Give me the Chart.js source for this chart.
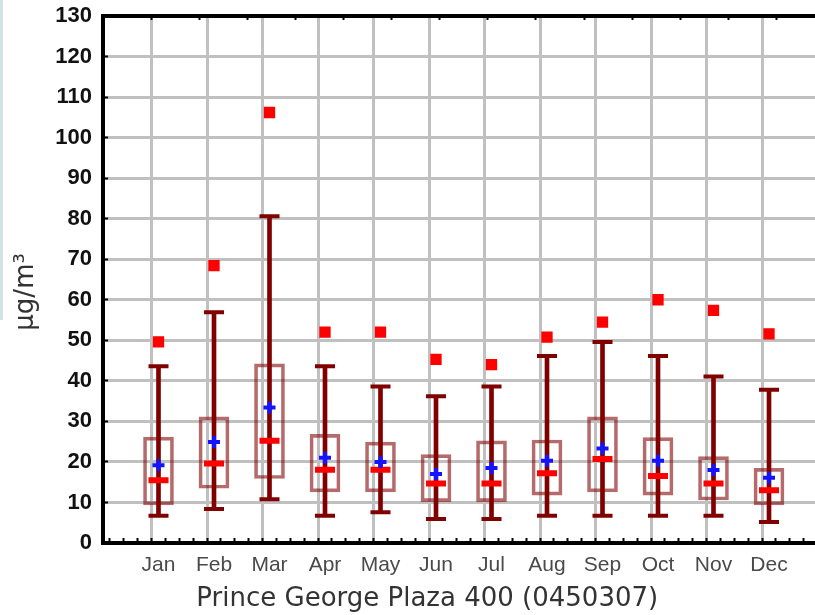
<!DOCTYPE html>
<html>
<head>
<meta charset="utf-8">
<script src="https://cdn.jsdelivr.net/npm/chart.js@4/dist/chart.umd.min.js"></script>
<style>
body { margin: 0; overflow: hidden; background: #fff; }
canvas { position: absolute; left: 0; top: 0; }
#strip { position: absolute; left: 0; top: 0; width: 3px; height: 320px; background: #d3e2ea; }
</style>
</head>
<body>
<canvas id="chart" width="854" height="615"></canvas>
<div id="strip"></div>
<script>
const months = ["Jan", "Feb", "Mar", "Apr", "May", "Jun", "Jul", "Aug", "Sep", "Oct", "Nov", "Dec"]
const maxValues = [49.6, 68.4, 106.2, 52.0, 52.0, 45.3, 44.0, 50.8, 54.5, 60.0, 57.4, 51.6]
const upperWhisker = [43.6, 56.9, 80.6, 43.6, 38.6, 36.2, 38.6, 46.1, 49.6, 46.1, 41.1, 37.8]
const upperQuartile = [26.1, 31.1, 44.2, 26.8, 24.9, 21.8, 25.2, 25.4, 31.1, 26.0, 21.3, 18.4]
const means = [19.2, 24.9, 33.4, 21.0, 20.0, 17.0, 18.5, 20.3, 23.3, 20.3, 18.0, 16.1]
const medians = [15.5, 19.6, 25.2, 18.1, 18.1, 14.7, 14.7, 17.2, 20.7, 16.5, 14.7, 13.0]
const lowerQuartile = [9.4, 13.5, 15.9, 12.6, 12.6, 10.2, 10.2, 11.8, 12.6, 11.8, 10.6, 9.4]
const lowerWhisker = [6.7, 8.4, 10.8, 6.7, 7.6, 5.9, 5.9, 6.7, 6.7, 6.7, 6.7, 5.2]
const yTicks = [0, 130, 10] // min, max, step

function toPoints(values) { // one point per month, month n sits at x = n
    return values.map((v, i) => ({ x: i + 1, y: v }))
}
function toRanges(low, high) { // floating bars from low to high
    return low.map((v, i) => ({ x: i + 1, y: [v, high[i]] }))
}
function markers(values, style, radius, width, color) {
    return {
        type: 'line', data: toPoints(values), showLine: false,
        pointStyle: style, pointRadius: radius, pointBorderWidth: width,
        pointBorderColor: color, pointBackgroundColor: color, borderColor: color
    }
}
function isMonthTick(c) { // only whole numbers get a grey grid line
    return !!c.tick && Number.isInteger(c.tick.value)
}

new Chart("chart", {
    type: 'bar',
    data: {
        datasets: [
            markers(means, 'cross', 6, 4, '#1414ff'),
            markers(medians, 'line', 10, 6, '#ff0000'),
            markers(maxValues, 'rect', 8, 0, '#ff0000'),
            markers(upperWhisker, 'line', 10, 4, '#800000'),
            markers(lowerWhisker, 'line', 10, 4, '#800000'),
            { type: 'bar', data: toRanges(lowerWhisker, upperWhisker), barThickness: 4, backgroundColor: '#800000', borderWidth: 0, grouped: false },
            { type: 'bar', data: toRanges(lowerQuartile, upperQuartile), barThickness: 30, backgroundColor: 'rgba(0,0,0,0)',
              borderColor: 'rgba(128,0,0,0.58)', borderWidth: 3, borderSkipped: false, grouped: false }
        ]
    },
    options: {
        responsive: false,
        devicePixelRatio: 1,
        animation: false,
        layout: { padding: { left: 30, right: 29.5, top: 0, bottom: 0 } }, // keeps the bottom title centred at x=427
        plugins: {
            legend: { display: false },
            tooltip: { enabled: false },
            title: {
                display: true, position: 'bottom', text: 'Prince George Plaza 400 (0450307)',
                color: '#333', font: { family: 'DejaVu Sans', size: 26, weight: 'normal' },
                padding: { top: 8, bottom: 0 }
            }
        },
        scales: {
            x: {
                type: 'linear', min: 0, max: 13, offset: false,
                ticks: {
                    stepSize: 0.25, maxTicksLimit: 60, autoSkip: false, maxRotation: 0, padding: 15,
                    color: '#4a4a4a', font: { family: 'Liberation Sans', size: 21 },
                    callback: v => (Number.isInteger(v) && v >= 1 && v <= months.length) ? months[v - 1] : ''
                },
                grid: {
                    color: c => isMonthTick(c) ? '#c0c0c0' : 'rgba(0,0,0,0)',
                    lineWidth: 3, tickColor: '#000', tickWidth: 2, tickLength: -5
                },
                border: { color: '#000', width: 4 },
                afterFit: s => { s.height = 32.8; s.paddingLeft = 0; s.paddingRight = 0 }
            },
            xTop: {
                type: 'linear', position: 'top', min: 0, max: 14,
                ticks: { stepSize: 1, display: false },
                grid: { drawOnChartArea: false, tickColor: '#000', tickWidth: 2, tickLength: -4 },
                border: { color: '#000', width: 4 },
                afterFit: s => { s.height = 15 }
            },
            y: {
                min: yTicks[0], max: yTicks[1],
                ticks: { stepSize: yTicks[2], padding: 16, color: '#111', font: { family: 'Liberation Sans', size: 22, weight: 'bold' } },
                grid: { color: '#c0c0c0', lineWidth: 3, tickColor: '#000', tickWidth: 2, tickLength: -5 },
                border: { color: '#000', width: 4 },
                title: { display: true, text: 'µg/m³   ', color: '#333', font: { family: 'DejaVu Sans', size: 26 }, padding: { top: -19.6, bottom: 0 } },
                afterFit: s => { s.width = 73; s.paddingTop = 0; s.paddingBottom = 0 } // labels may overflow the plot edges
            }
        }
    }
})
</script>
</body>
</html>
